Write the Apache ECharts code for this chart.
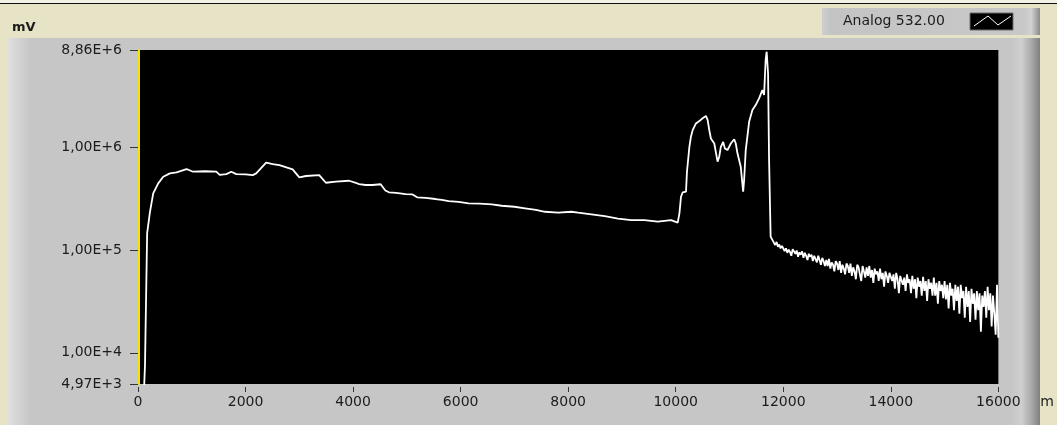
<!DOCTYPE html>
<html>
<head>
<meta charset="utf-8">
<script src="https://cdn.jsdelivr.net/npm/echarts@6/dist/echarts.min.js"></script>
<style>
  html, body { margin: 0; padding: 0; background: #e7e3c7; }
  #chart { width: 1057px; height: 425px; }
</style>
</head>
<body>
<div id="chart"></div>
<script>
// Trace name shown in the plot legend
const traceName = 'Analog 532.00';

// Main profile: distance (m) and signal (mV)
const profileDistance = [
  100, 130, 160, 170, 222, 283, 376, 469, 593, 717, 902, 1024, 1250, 1457, 1519, 1643, 1735, 1828,
  2000, 2135, 2198, 2383, 2506, 2630, 2876, 3000, 3124, 3370, 3494, 3680, 3926, 4050, 4111, 4235,
  4357, 4513, 4600, 4667, 4800, 4976, 5098, 5191, 5350, 5531, 5650, 5778, 5963, 6148, 6350, 6580,
  6765, 7000, 7198, 7400, 7569, 7815, 8061, 8185, 8431, 8680, 8926, 9172, 9420, 9667, 9913, 10037,
  10069, 10098, 10130, 10191, 10209, 10254, 10283, 10315, 10376, 10439, 10500, 10561, 10593, 10624,
  10654, 10717, 10778, 10809, 10839, 10883, 10913, 10963, 11024, 11087, 11117, 11148, 11209, 11254,
  11272, 11302, 11365, 11426, 11487, 11550, 11611, 11643, 11672, 11691, 11717, 11735, 11765
];
const profileSignal = [
  3000, 7600, 7600, 146000, 234000, 357000, 446000, 518000, 558000, 571000, 615000, 579000, 585000, 579000, 540000, 549000, 579000, 549000,
  545000, 537000, 558000, 709000, 688000, 672000, 611000, 510000, 526000, 537000, 452000, 463000, 473000, 452000, 439000, 430000,
  430000, 437000, 380000, 365000, 360000, 351000, 349000, 326000, 322000, 314000, 308000, 300000, 295000, 285000, 283000, 279000,
  270000, 264000, 255000, 246000, 236000, 231000, 236000, 231000, 223000, 214000, 202000, 196000, 196000, 189000, 196000, 185000,
  228000, 330000, 365000, 370000, 579000, 1010000, 1270000, 1470000, 1710000, 1800000, 1920000, 2020000, 1850000, 1470000,
  1220000, 1090000, 725000, 810000, 1010000, 1130000, 977000, 941000, 1090000, 1200000, 1090000, 875000, 648000, 370000,
  481000, 941000, 1770000, 2310000, 2580000, 3000000, 3610000, 3230000, 7080000, 8530000, 5260000, 810000, 135000
];

// Noisy decay after the reflection peak: distance (m) and signal (mV)
const tailDistance = [
  11800, 11825, 11850, 11875, 11900, 11925, 11950, 11975,
  12000, 12025, 12050, 12075, 12100, 12125, 12150, 12175,
  12200, 12225, 12250, 12275, 12300, 12325, 12350, 12375,
  12400, 12425, 12450, 12475, 12500, 12525, 12550, 12575,
  12600, 12625, 12650, 12675, 12700, 12725, 12750, 12775,
  12800, 12825, 12850, 12875, 12900, 12925, 12950, 12975,
  13000, 13025, 13050, 13075, 13100, 13125, 13150, 13175,
  13200, 13225, 13250, 13275, 13300, 13325, 13350, 13375,
  13400, 13425, 13450, 13475, 13500, 13525, 13550, 13575,
  13600, 13625, 13650, 13675, 13700, 13725, 13750, 13775,
  13800, 13825, 13850, 13875, 13900, 13925, 13950, 13975,
  14000, 14025, 14050, 14075, 14100, 14125, 14150, 14175,
  14200, 14225, 14250, 14275, 14300, 14325, 14350, 14375,
  14400, 14425, 14450, 14475, 14500, 14525, 14550, 14575,
  14600, 14625, 14650, 14675, 14700, 14725, 14750, 14775,
  14800, 14825, 14850, 14875, 14900, 14925, 14950, 14975,
  15000, 15025, 15050, 15075, 15100, 15125, 15150, 15175,
  15200, 15225, 15250, 15275, 15300, 15325, 15350, 15375,
  15400, 15425, 15450, 15475, 15500, 15525, 15550, 15575,
  15600, 15625, 15650, 15675, 15700, 15725, 15750, 15775,
  15800, 15825, 15850, 15875, 15900, 15925, 15950, 15975,
  16000
];
const tailSignal = [
  130000, 118000, 112000, 120000, 108000, 113000, 104000, 110000,
  106000, 98000, 104000, 94000, 101000, 96000, 88000, 102000,
  97000, 92000, 99000, 86000, 95000, 90000, 97000, 84000,
  94000, 88000, 80000, 92000, 86000, 90000, 78000, 88000,
  86000, 76000, 88000, 80000, 72000, 84000, 78000, 70000,
  80000, 70000, 82000, 66000, 76000, 72000, 62000, 78000,
  74000, 64000, 78000, 60000, 72000, 66000, 58000, 74000,
  70000, 60000, 74000, 56000, 68000, 62000, 52000, 72000,
  68000, 58000, 50000, 70000, 62000, 54000, 68000, 56000,
  70000, 54000, 64000, 48000, 66000, 58000, 62000, 50000,
  66000, 52000, 60000, 44000, 62000, 56000, 48000, 60000,
  62000, 50000, 58000, 42000, 60000, 52000, 38000, 56000,
  58000, 46000, 54000, 40000, 58000, 48000, 52000, 38000,
  56000, 42000, 52000, 34000, 54000, 44000, 50000, 36000,
  55000, 40000, 50000, 32000, 52000, 42000, 48000, 36000,
  54000, 36000, 48000, 30000, 50000, 40000, 46000, 34000,
  50000, 33000, 46000, 27000, 48000, 36000, 42000, 26000,
  46000, 32000, 44000, 24000, 46000, 34000, 40000, 22000,
  44000, 28000, 40000, 20000, 42000, 30000, 38000, 21000,
  40000, 26000, 38000, 16000, 36000, 28000, 40000, 22000,
  44000, 26000, 38000, 18000, 36000, 24000, 15000, 46000,
  14000
];

// Axis ranges
const yMin = 4970;
const yMax = 8860000;
const xMin = 0;
const xMax = 16000;
const xStep = 2000;

const points = profileDistance.map((d, i) => [d, profileSignal[i]])
  .concat(tailDistance.map((d, i) => [d, tailSignal[i]]));

// 1,00E+4 style labels (comma decimal separator)
function sciLabel(v) {
  return Number(v).toExponential(2).replace('.', ',').replace('e', 'E');
}

const font = 'DejaVu Sans';
const textColor = '#1c1c1c';

const chart = echarts.init(document.getElementById('chart'), null, { renderer: 'canvas' });

const option = {
  animation: false,
  backgroundColor: '#e7e3c7',
  graphic: [
    // thin dark rule along the top edge
    { type: 'rect', silent: true, z: -10, shape: { x: 0, y: 0, width: 1057, height: 3 }, style: { fill: '#f4f2e6' } },
    { type: 'rect', silent: true, z: -10, shape: { x: 0, y: 3, width: 1057, height: 1 }, style: { fill: '#111' } },
    // gray instrument panel
    {
      type: 'rect', silent: true, z: -10,
      shape: { x: 8, y: 38, width: 1032, height: 387 },
      style: {
        fill: new echarts.graphic.LinearGradient(0, 0, 1, 0, [
          { offset: 0, color: '#e0e0e0' },
          { offset: 0.006, color: '#d8d8d8' },
          { offset: 0.022, color: '#c6c6c6' },
          { offset: 0.972, color: '#c6c6c6' },
          { offset: 0.982, color: '#cfcfcf' },
          { offset: 0.992, color: '#a8a8a8' },
          { offset: 1, color: '#808080' }
        ])
      }
    },
    // legend plate
    {
      type: 'rect', silent: true, z: -9,
      shape: { x: 822, y: 8, width: 218, height: 27 },
      style: {
        fill: new echarts.graphic.LinearGradient(0, 0, 1, 0, [
          { offset: 0, color: '#cfcfcf' },
          { offset: 0.04, color: '#c4c4c4' },
          { offset: 0.93, color: '#c8c8c8' },
          { offset: 0.96, color: '#d2d2d2' },
          { offset: 1, color: '#8a8a8a' }
        ])
      }
    },
    {
      type: 'text', silent: true, z: 5,
      style: { x: 843, y: 21, text: traceName, font: '14px "DejaVu Sans"', fill: textColor, verticalAlign: 'middle' }
    },
    {
      type: 'rect', silent: true, z: 5,
      shape: { x: 970, y: 13, width: 43, height: 17 },
      style: { fill: '#000', stroke: '#6a6a6a', lineWidth: 1 }
    },
    {
      type: 'polyline', silent: true, z: 6,
      shape: { points: [[974, 26], [988, 16], [998, 25], [1011, 16]] },
      style: { stroke: '#fff', lineWidth: 1, fill: null }
    },
    // unit of the vertical axis
    {
      type: 'text', silent: true, z: 5,
      style: { x: 12, y: 28, text: 'mV', font: 'bold 13px "DejaVu Sans"', fill: textColor, verticalAlign: 'middle' }
    }
  ],
  grid: {
    left: 138, right: 54, top: 50, bottom: 41,
    show: true, backgroundColor: '#000', borderWidth: 0
  },
  xAxis: {
    type: 'value', min: xMin, max: xMax, interval: xStep, offset: 3,
    axisLine: { show: false },
    axisTick: { show: true, length: 5, lineStyle: { color: '#333' } },
    axisLabel: { color: textColor, fontFamily: font, fontSize: 14, margin: 8, formatter: (v) => String(v) },
    splitLine: { show: false },
    name: 'm', nameLocation: 'end', nameGap: 42,
    nameTextStyle: { color: textColor, fontFamily: font, fontSize: 14, verticalAlign: 'top', padding: [8, 0, 0, 0] }
  },
  yAxis: [
    {
      type: 'log', logBase: 10, min: yMin, max: yMax, position: 'left', offset: 6,
      axisLine: { show: true, lineStyle: { color: '#c6c6c6', width: 1 } },
      axisTick: { show: true, length: 8, lineStyle: { color: '#333', width: 1 } },
      axisLabel: { color: textColor, fontFamily: font, fontSize: 14, margin: 10, formatter: sciLabel, showMinLabel: true, showMaxLabel: true },
      splitLine: { show: false },
      minorTick: { show: false }
    },
    {
      // cursor-style marker along the left edge of the plot
      type: 'log', logBase: 10, min: yMin, max: yMax, position: 'left', offset: -1,
      axisLine: { show: true, lineStyle: { color: '#f2e400', width: 2 } },
      axisTick: { show: false },
      axisLabel: { show: false },
      splitLine: { show: false },
      z: 10
    }
  ],
  series: [{
    name: traceName,
    type: 'line',
    yAxisIndex: 0,
    data: points,
    showSymbol: false,
    clip: true,
    lineStyle: { color: '#ffffff', width: 1.8 },
    z: 3
  }]
};

chart.setOption(option);
</script>
</body>
</html>
